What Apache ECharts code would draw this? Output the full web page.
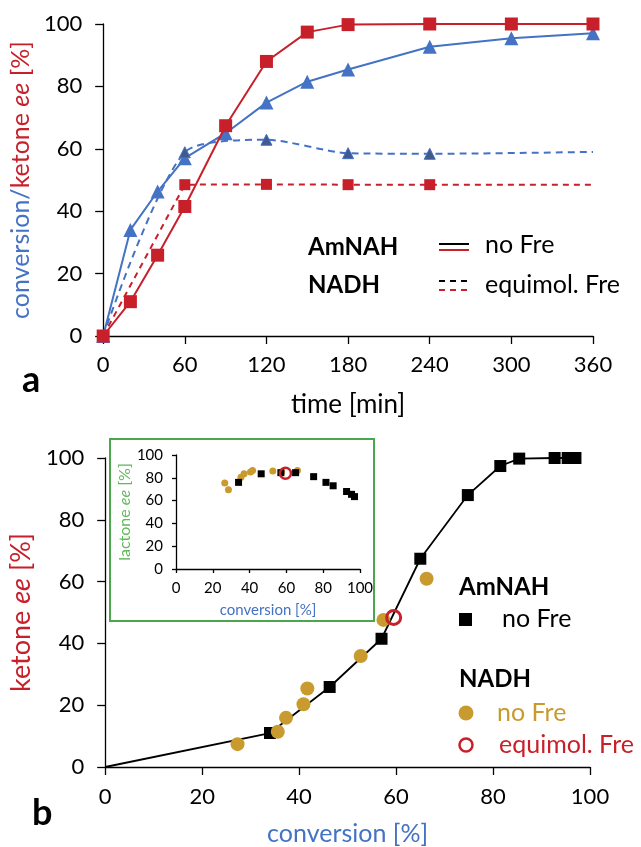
<!DOCTYPE html>
<html><head><meta charset="utf-8">
<script src="https://cdn.jsdelivr.net/npm/echarts@6/dist/echarts.min.js"></script>
<style>html,body{margin:0;padding:0;background:#fff}#c{width:641px;height:847px}</style>
</head><body><div id="c"></div>
<script>
// ---- panel a data ----
const timeMin = [0, 20, 40, 60, 90, 120, 150, 180, 240, 300, 360];
const amnahConversion = [0, 34, 46.3, 57, 65, 74.8, 81.5, 85.4, 92.7, 95.4, 97];
const amnahKetoneEe = [0, 11, 25.9, 41.5, 67.4, 88, 97.4, 99.8, 100, 100, 100];
const freTimeMin = [0, 60, 120, 180, 240, 360];
const freConversion = [0, 58.9, 62.9, 58.6, 58.4, 59];
const freKetoneEe = [0, 48.5, 48.6, 48.5, 48.5, 48.5];
const timeTicks = [0, 60, 120, 180, 240, 300, 360];
const pctTicks = [0, 20, 40, 60, 80, 100];
// ---- panel b data ----
const amnahLactoneEe = [76, 83.5, 84.5, 84.5, 81, 76, 73, 68, 65.5, 63.5]; // for timeMin[1..]
const nadhConversion = [27.3, 35.6, 37.3, 40.9, 41.7, 52.7, 57.4, 66.3];
const nadhKetoneEe = [7.4, 11.4, 15.9, 20.3, 25.4, 35.9, 47.6, 60.9];
const nadhInsetConversion = [26.5, 28.5, 35.3, 37, 40.5, 41.6, 52.6, 57.4, 66];
const nadhLactoneEe = [75.5, 69.5, 80.5, 83.5, 85, 86.5, 86, 85, 86.5];
const nadhFreConversion = [59.5];
const nadhFreKetoneEe = [48.4];
const nadhFreLactoneEe = [84];

const BLUE = '#4472C4', RED = '#C8202A', DARKTRI = '#41598B', GOLD = '#C99A2E', GREEN = '#4CA64C', LGREEN = '#62B85A';
const FONT = 'Lato';

const zip = (a, b) => a.map((v, i) => [v, b[i]]);
function firstNoSymbol(pairs) { return pairs.map((p, i) => i === 0 ? { value: p, symbol: 'none' } : p); }
function dashedData(pairs) { return pairs.map((p, i) => (i === 0 || i === pairs.length - 1) ? { value: p, symbol: 'none' } : p); }

function axisBase(fs, margin, tickLen, z) {
  return {
    z: z || 0,
    axisLine: { show: true, onZero: false, lineStyle: { color: '#000', width: 1.3 } },
    axisTick: { show: true, inside: false, length: tickLen, lineStyle: { color: '#000', width: 1.3 } },
    axisLabel: { fontFamily: FONT, fontSize: fs, color: '#000', margin: margin },
    splitLine: { show: false }
  };
}
function txt(text, x, y, size, color, bold) {
  return { type: 'text', z: 10, style: { text: text, x: x, y: y, font: (bold ? 'bold ' : '') + size + 'px ' + FONT, fill: color,
    verticalAlign: 'middle', textVerticalAlign: 'middle' } };
}

const chart = echarts.init(document.getElementById('c'), null, { renderer: 'canvas' });
const option = {
  backgroundColor: '#fff',
  animation: false,
  grid: [
    { left: 103, top: 24, width: 490, height: 312 },
    { left: 102, top: 458, width: 488, height: 309 },
    { left: 176, top: 455, width: 184, height: 114, z: 5 }
  ],
  xAxis: [
    Object.assign(axisBase(22, 18, 8), { gridIndex: 0, type: 'value', min: timeTicks[0], max: timeTicks[timeTicks.length - 1], interval: 60,
      name: 'time [min]', nameLocation: 'middle', nameGap: 56, nameTextStyle: { fontFamily: FONT, fontSize: 26, color: '#000' } }),
    Object.assign(axisBase(22, 19, 8), { gridIndex: 1, type: 'value', min: 0, max: 100, interval: 20,
      name: 'conversion [%]', nameLocation: 'middle', nameGap: 54, nameTextStyle: { fontFamily: FONT, fontSize: 25, color: BLUE } }),
    Object.assign(axisBase(15, 12, 4, 10), { gridIndex: 2, type: 'value', min: 0, max: 100, interval: 20,
      name: 'conversion [%]', nameLocation: 'middle', nameGap: 34, nameTextStyle: { fontFamily: FONT, fontSize: 15, color: BLUE } })
  ],
  yAxis: [
    Object.assign(axisBase(22, 21, 8), { gridIndex: 0, type: 'value', min: pctTicks[0], max: pctTicks[pctTicks.length - 1], interval: 20,
      name: '{b|conversion/}{r|ketone }{ri|ee}{r| [%]}', nameLocation: 'middle', nameGap: 62, nameRotate: 90,
      nameTextStyle: { fontFamily: FONT, fontSize: 25, rich: {
        b: { fontFamily: FONT, fontSize: 25, color: BLUE },
        r: { fontFamily: FONT, fontSize: 25, color: RED },
        ri: { fontFamily: FONT, fontSize: 25, color: RED, fontStyle: 'italic' } } } }),
    Object.assign(axisBase(22, 21, 8), { gridIndex: 1, type: 'value', min: 0, max: 100, interval: 20,
      name: '{r|ketone }{ri|ee}{r| [%]}', nameLocation: 'middle', nameGap: 62, nameRotate: 90,
      nameTextStyle: { fontFamily: FONT, fontSize: 27, rich: {
        r: { fontFamily: FONT, fontSize: 27, color: RED },
        ri: { fontFamily: FONT, fontSize: 27, color: RED, fontStyle: 'italic' } } } }),
    Object.assign(axisBase(15, 13, 4, 10), { gridIndex: 2, type: 'value', min: 0, max: 100, interval: 20,
      name: '{r|lactone }{ri|ee}{r| [%]}', nameLocation: 'middle', nameGap: 42, nameRotate: 90,
      nameTextStyle: { fontFamily: FONT, fontSize: 16, rich: {
        r: { fontFamily: FONT, fontSize: 16, color: LGREEN },
        ri: { fontFamily: FONT, fontSize: 16, color: LGREEN, fontStyle: 'italic' } } } })
  ],
  graphic: [
    { type: 'rect', z: -1, shape: { x: 110, y: 439, width: 264, height: 182 }, style: { fill: '#fff', stroke: GREEN, lineWidth: 2 } },
    // panel labels
    txt('a', 22, 380, 36, '#000', true),
    txt('b', 32, 813, 36, '#000', true),
    // legend a
    txt('AmNAH', 308, 247, 24, '#000', true),
    txt('NADH', 308, 285, 24, '#000', true),
    { type: 'line', z: 10, shape: { x1: 439, y1: 244, x2: 469, y2: 244 }, style: { stroke: '#000', lineWidth: 2 } },
    { type: 'line', z: 10, shape: { x1: 439, y1: 250, x2: 469, y2: 250 }, style: { stroke: RED, lineWidth: 2 } },
    { type: 'line', z: 10, shape: { x1: 439, y1: 281, x2: 472, y2: 281 }, style: { stroke: '#000', lineWidth: 2, lineDash: [6, 5] } },
    { type: 'line', z: 10, shape: { x1: 439, y1: 290, x2: 472, y2: 290 }, style: { stroke: RED, lineWidth: 2, lineDash: [6, 5] } },
    txt('no Fre', 485, 245, 25, '#000'),
    txt('equimol. Fre', 485, 285, 25, '#000'),
    // legend b
    txt('AmNAH', 459, 587, 24, '#000', true),
    { type: 'rect', z: 10, shape: { x: 459, y: 613, width: 13, height: 13 }, style: { fill: '#000' } },
    txt('no Fre', 502, 619, 25, '#000'),
    txt('NADH', 459, 679, 24, '#000', true),
    { type: 'circle', z: 10, shape: { cx: 466, cy: 713, r: 7.5 }, style: { fill: GOLD } },
    txt('no Fre', 497, 713, 25, GOLD),
    { type: 'circle', z: 10, shape: { cx: 466, cy: 745, r: 6.5 }, style: { fill: '#fff', stroke: RED, lineWidth: 2.5 } },
    txt('equimol. Fre', 499, 745, 25, RED)
  ],
  series: [
    { type: 'line', xAxisIndex: 0, yAxisIndex: 0, data: dashedData(zip(freTimeMin, freKetoneEe)),
      lineStyle: { color: RED, width: 2, type: [6, 5] }, itemStyle: { color: RED }, symbol: 'rect', symbolSize: 11, z: 3 },
    { type: 'line', xAxisIndex: 0, yAxisIndex: 0, data: zip(timeMin, amnahConversion),
      lineStyle: { color: BLUE, width: 2 }, itemStyle: { color: BLUE }, symbol: 'triangle', symbolSize: 14, z: 4 },
    { type: 'line', xAxisIndex: 0, yAxisIndex: 0, data: dashedData(zip(freTimeMin, freConversion)), smooth: 0.25,
      lineStyle: { color: BLUE, width: 2, type: [7, 5] }, itemStyle: { color: DARKTRI, borderColor: BLUE, borderWidth: 1 }, symbol: 'triangle', symbolSize: 11, z: 5 },
    { type: 'line', xAxisIndex: 0, yAxisIndex: 0, data: zip(timeMin, amnahKetoneEe),
      lineStyle: { color: RED, width: 2 }, itemStyle: { color: RED }, symbol: 'rect', symbolSize: 13, z: 6 },
    // panel b main
    { type: 'line', xAxisIndex: 1, yAxisIndex: 1, data: firstNoSymbol(zip(amnahConversion, amnahKetoneEe)),
      lineStyle: { color: '#000', width: 1.8 }, itemStyle: { color: '#000' }, symbol: 'rect', symbolSize: 12, z: 3 },
    { type: 'scatter', xAxisIndex: 1, yAxisIndex: 1, data: zip(nadhConversion, nadhKetoneEe),
      itemStyle: { color: GOLD, opacity: 1 }, symbol: 'circle', symbolSize: 14, z: 4 },
    { type: 'scatter', xAxisIndex: 1, yAxisIndex: 1, data: zip(nadhFreConversion, nadhFreKetoneEe),
      itemStyle: { color: 'rgba(255,255,255,0)', borderColor: RED, borderWidth: 3, opacity: 1 }, symbol: 'circle', symbolSize: 14, z: 5 },
    // inset
    { type: 'scatter', xAxisIndex: 2, yAxisIndex: 2, data: zip(nadhInsetConversion, nadhLactoneEe),
      itemStyle: { color: GOLD, opacity: 1 }, symbol: 'circle', symbolSize: 7, z: 6 },
    { type: 'scatter', xAxisIndex: 2, yAxisIndex: 2, data: zip(amnahConversion.slice(1), amnahLactoneEe),
      itemStyle: { color: '#000', opacity: 1 }, symbol: 'rect', symbolSize: 7, z: 7 },
    { type: 'scatter', xAxisIndex: 2, yAxisIndex: 2, data: zip(nadhFreConversion, nadhFreLactoneEe),
      itemStyle: { color: 'rgba(255,255,255,0)', borderColor: RED, borderWidth: 2.5, opacity: 1 }, symbol: 'circle', symbolSize: 11, z: 8 }
  ]
};
chart.setOption(option);
</script></body></html>
